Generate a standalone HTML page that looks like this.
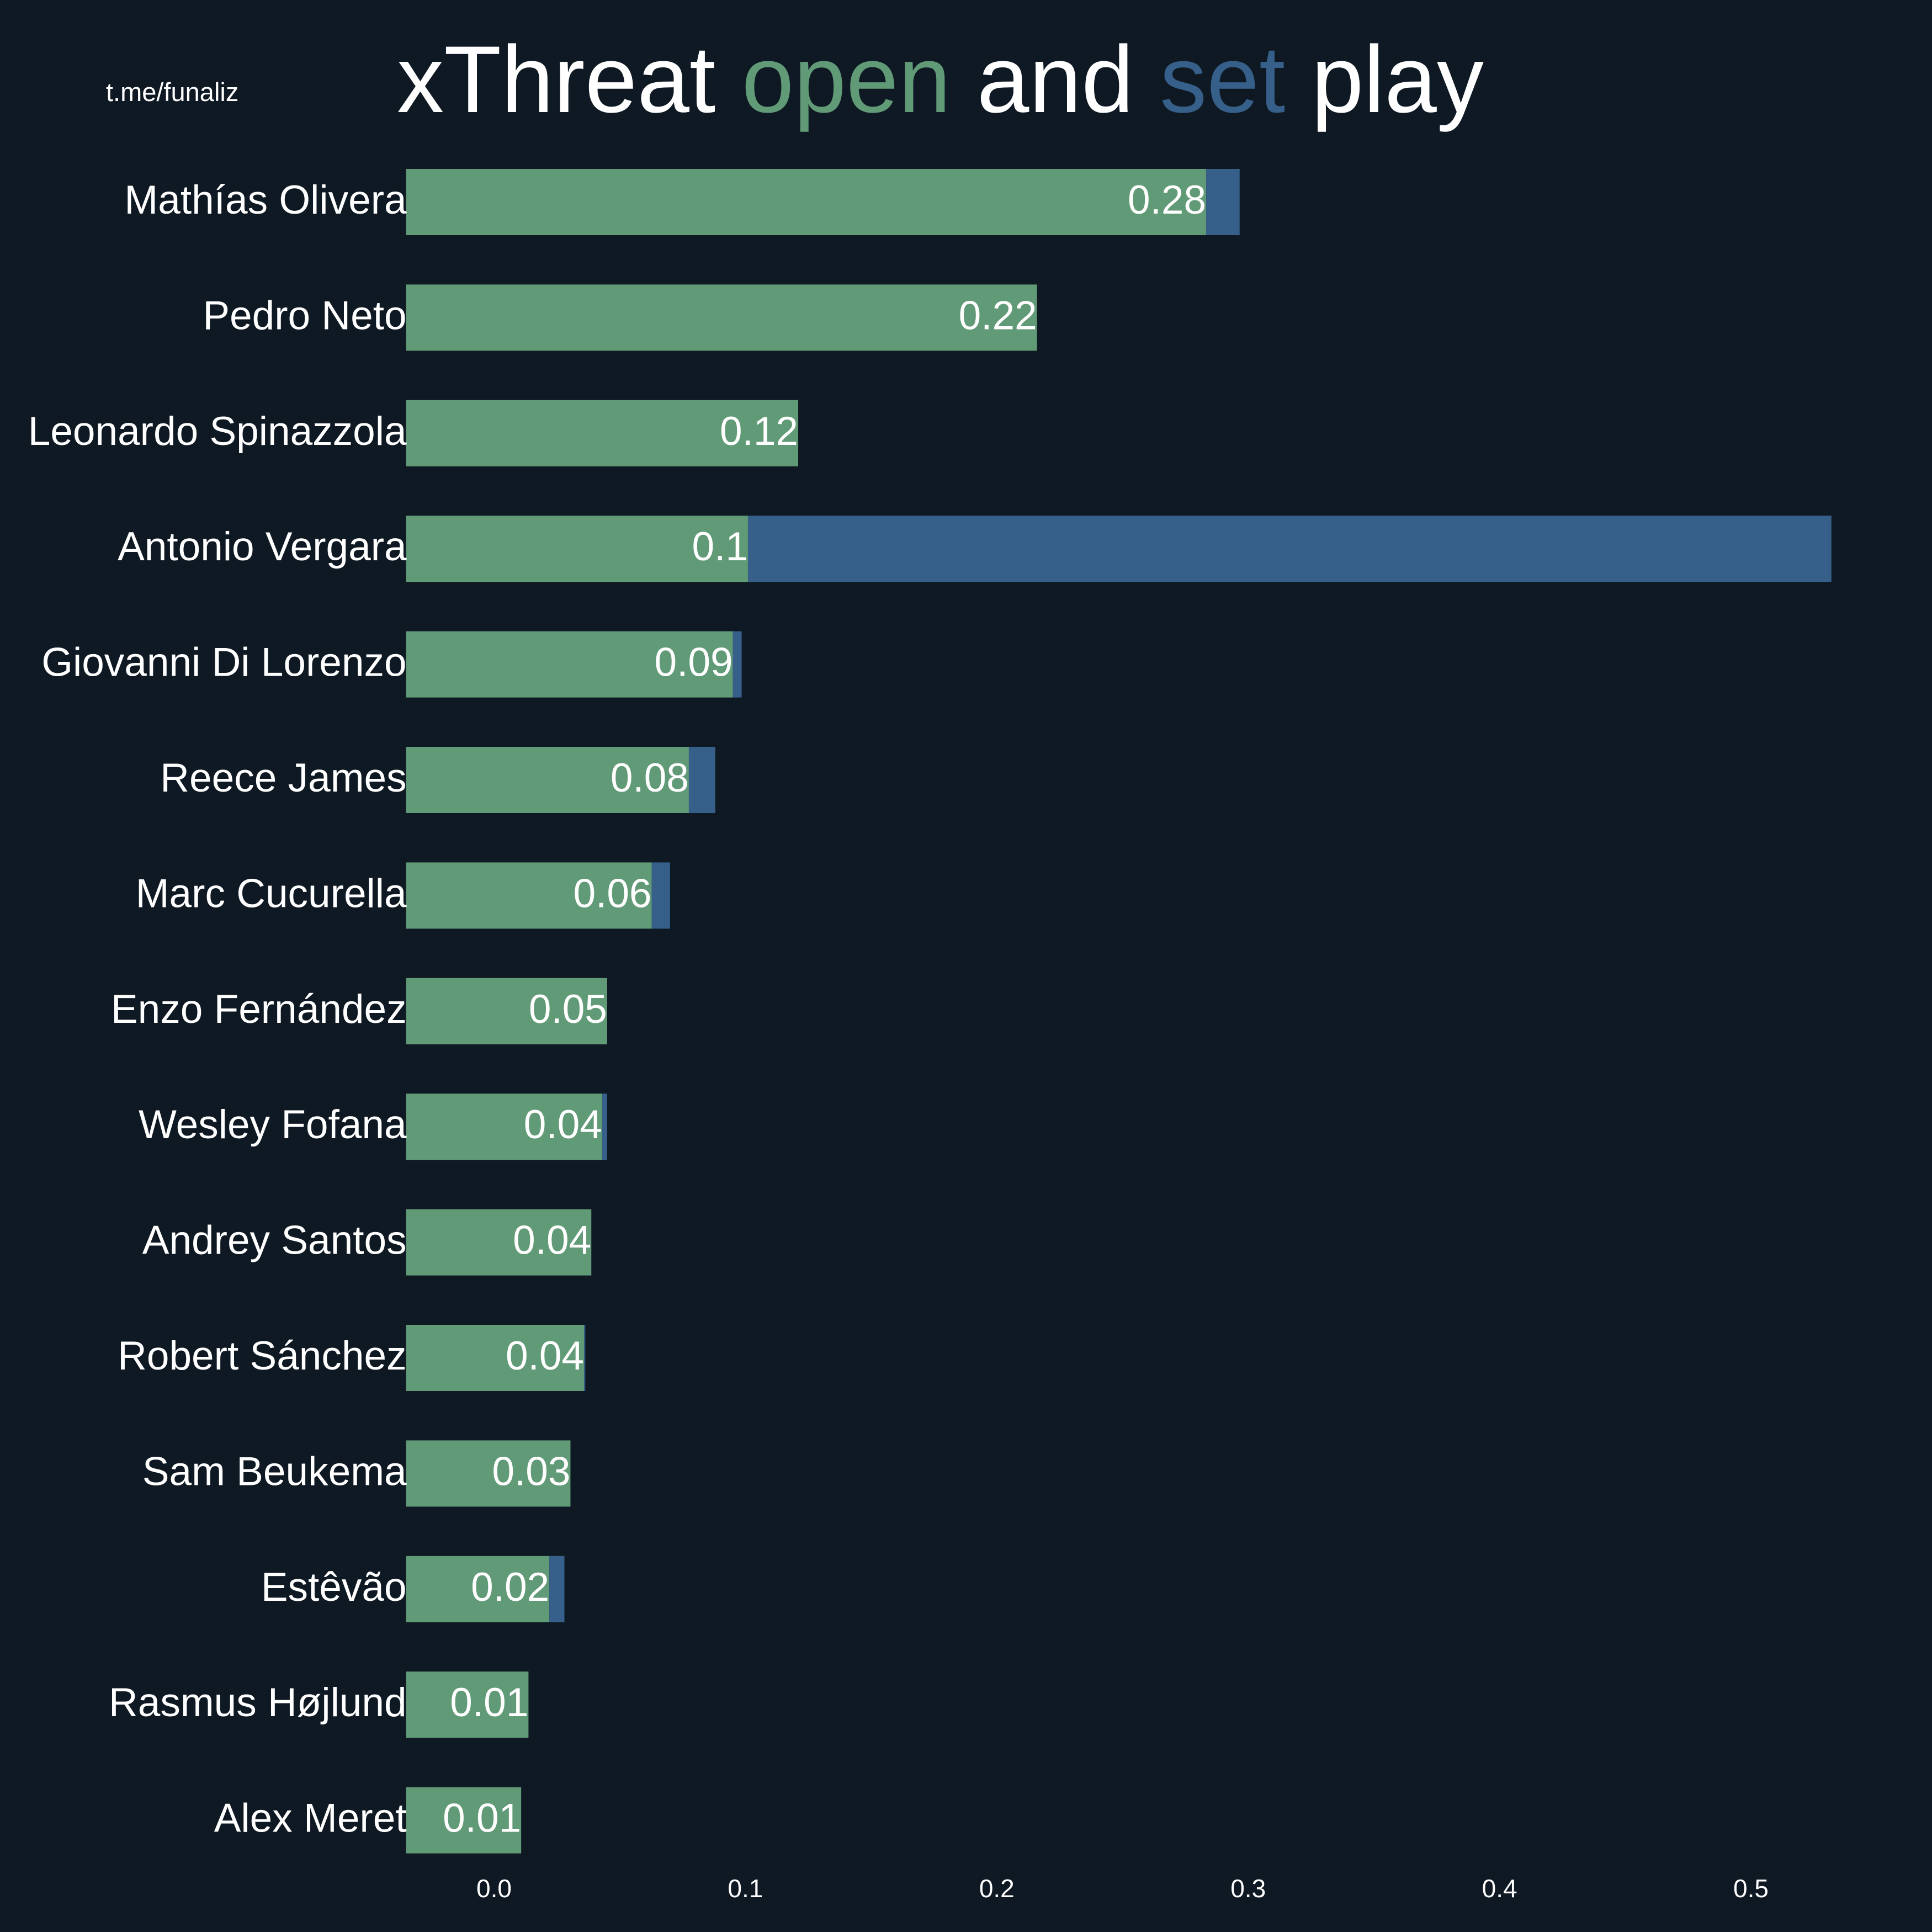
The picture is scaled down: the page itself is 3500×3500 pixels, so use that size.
<!DOCTYPE html>
<html><head><meta charset="utf-8"><style>
html,body{margin:0;padding:0;background:#0f1923;}
svg{display:block;}
text{font-family:"Liberation Sans",sans-serif;}
</style></head><body>
<svg id="chart" width="3500" height="3500" viewBox="0 0 3500 3500" xmlns="http://www.w3.org/2000/svg">
<rect width="3500" height="3500" fill="#0f1923"/>
<text x="192" y="183" font-size="47" fill="#ffffff">t.me/funaliz</text>
<text x="719" y="203" font-size="172" fill="#ffffff" textLength="1969" lengthAdjust="spacingAndGlyphs">xThreat <tspan fill="#619a77">open</tspan> and <tspan fill="#36608a">set</tspan> play</text>
<g id="bars"></g>
<g id="xaxis"></g>
</svg>
<script>
const players = ["Mathías Olivera","Pedro Neto","Leonardo Spinazzola","Antonio Vergara","Giovanni Di Lorenzo","Reece James","Marc Cucurella","Enzo Fernández","Wesley Fofana","Andrey Santos","Robert Sánchez","Sam Beukema","Estêvão","Rasmus Højlund","Alex Meret"];
const openPlay = [0.2833,0.216,0.121,0.101,0.095,0.0775,0.0627,0.045,0.043,0.0387,0.0358,0.0304,0.022,0.0137,0.0108];
const setPlay = [0.0133,0,0,0.431,0.0035,0.0105,0.0073,0,0.002,0,0.0005,0,0.006,0,0];
const valueLabels = ["0.28","0.22","0.12","0.1","0.09","0.08","0.06","0.05","0.04","0.04","0.04","0.03","0.02","0.01","0.01"];
const xTicks = [0.0,0.1,0.2,0.3,0.4,0.5];
const xTickLabels = ["0.0","0.1","0.2","0.3","0.4","0.5"];

const NS="http://www.w3.org/2000/svg";
const xMin=-0.035, x0=895, pxPer=4554;
const X=v=>x0+v*pxPer;
const rowTop=366, rowStep=209.4, barH=120;
const Y=i=>rowTop+i*rowStep;
const bars=document.getElementById('bars');
const ax=document.getElementById('xaxis');
function mk(tag,attrs,parent){const e=document.createElementNS(NS,tag);for(const k in attrs)e.setAttribute(k,attrs[k]);parent.appendChild(e);return e;}
players.forEach((p,i)=>{
  const cy=Y(i);
  const o=mk('rect',{x:X(xMin),y:cy-barH/2,width:X(openPlay[i])-X(xMin),height:barH,fill:'#619a77'},bars);
  
  
  if(setPlay[i]>0){
    const s=mk('rect',{x:X(openPlay[i]),y:cy-barH/2,width:X(openPlay[i]+setPlay[i])-X(openPlay[i]),height:barH,fill:'#36608a'},bars);
    
    
  }
  const n=mk('text',{x:X(xMin)+1,y:cy+21,'font-size':73,fill:'#ffffff','text-anchor':'end'},bars);
  n.textContent=p;
  
  
  const v=mk('text',{x:X(openPlay[i]),y:cy+21,'font-size':73,fill:'#ffffff','text-anchor':'end'},bars);
  v.textContent=valueLabels[i];
  
  
});
xTicks.forEach((t,i)=>{
  const tl=mk('text',{x:X(t),y:3437,'font-size':46,fill:'#ffffff','text-anchor':'middle'},ax);
  tl.textContent=xTickLabels[i];
  
  
});
</script>
</body></html>
